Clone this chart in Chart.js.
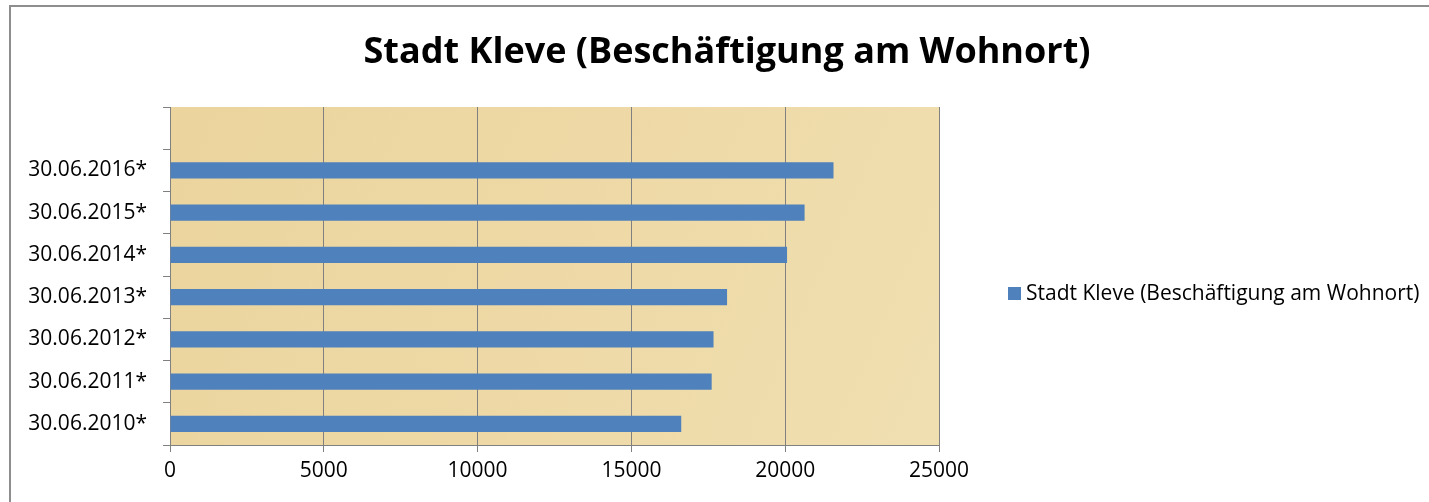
<!DOCTYPE html>
<html lang="de">
<head>
<meta charset="utf-8">
<title>Stadt Kleve (Beschäftigung am Wohnort)</title>
<script src="https://cdn.jsdelivr.net/npm/chart.js@4.4.1/dist/chart.umd.min.js"></script>
<style>
  html, body { margin: 0; padding: 0; background: #fff; overflow: hidden; }
  #wrap { width: 1429px; height: 502px; }
</style>
</head>
<body>
<div id="wrap"><canvas id="chart-kleve" width="1429" height="502"></canvas></div>
<script>
/* Daten – Stichtage und Beschäftigte am Wohnort */
const titel = 'Stadt Kleve (Beschäftigung am Wohnort)';
const reihenName = 'Stadt Kleve (Beschäftigung am Wohnort)';
const stichtage = ['30.06.2010*', '30.06.2011*', '30.06.2012*', '30.06.2013*', '30.06.2014*', '30.06.2015*', '30.06.2016*'];
const beschaeftigte = [16620, 17610, 17670, 18110, 20060, 20630, 21570];
const xTicks = [0, 5000, 10000, 15000, 20000, 25000];

const SCHRIFT = "'Open Sans', 'Noto Sans', sans-serif";
const GRAU = '#808080';
const BALKEN = '#4f81bd';

// Rahmen, Titel, Legende und Papyrus-Fläche – direkt auf das Canvas,
// damit die Positionen wie im Original sitzen (Chart.js zentriert sonst
// den Titel nur über dem gepolsterten Bereich).
const deko = {
  id: 'deko',
  beforeDraw(chart) {
    const { ctx, chartArea: a } = chart;
    ctx.save();
    const g = ctx.createLinearGradient(a.left, a.top, a.right, a.bottom);
    g.addColorStop(0, '#ebd49d');
    g.addColorStop(0.5, '#eed9a6');
    g.addColorStop(1, '#f0dfb1');
    ctx.fillStyle = g;
    ctx.fillRect(a.left, a.top, a.right - a.left, a.bottom - a.top);
    ctx.restore();
  },
  afterDraw(chart) {
    const { ctx } = chart;
    ctx.save();
    // äußerer Rahmen (nur oben und links sichtbar)
    ctx.fillStyle = '#8e8e8e';
    ctx.fillRect(10, 5, chart.width - 10, 2);
    ctx.fillRect(9, 5, 2, chart.height - 5);

    // Titel
    ctx.fillStyle = '#000';
    ctx.font = `bold 36px ${SCHRIFT}`;
    ctx.textAlign = 'center';
    ctx.textBaseline = 'middle';
    ctx.fillText(titel, 727, 53);

    // Legende
    const ds = chart.data.datasets[0];
    ctx.fillStyle = ds.backgroundColor;
    ctx.fillRect(1008, 287, 13, 13);
    ctx.fillStyle = '#000';
    ctx.font = `21px ${SCHRIFT}`;
    ctx.textAlign = 'left';
    ctx.fillText(ds.label, 1026, 294);
    ctx.restore();
  }
};

new Chart(document.getElementById('chart-kleve'), {
  type: 'bar',
  data: {
    labels: [...stichtage, ''],          // oberster Platz bleibt leer
    datasets: [{
      label: reihenName,
      data: [...beschaeftigte, null],
      backgroundColor: BALKEN,
      borderWidth: 0,
      barPercentage: 0.39,
      categoryPercentage: 1
    }]
  },
  options: {
    indexAxis: 'y',
    responsive: false,
    animation: false,
    layout: { padding: { left: 10, right: 490, top: 107, bottom: 20 } },
    plugins: {
      legend: { display: false },
      title: { display: false },
      tooltip: { enabled: false }
    },
    scales: {
      x: {
        min: 0,
        max: 25000,
        afterBuildTicks: s => { s.ticks = xTicks.map(v => ({ value: v })); },
        afterFit: s => { s.height = 37; },
        grid: { color: GRAU, lineWidth: 1, tickLength: 7 },
        border: { color: GRAU, width: 1 },
        ticks: {
          color: '#000',
          font: { family: SCHRIFT, size: 21 },
          padding: 6,
          maxRotation: 0,
          callback: v => String(v)
        }
      },
      y: {
        reverse: true,
        afterFit: s => { s.width = 160; },
        grid: { drawOnChartArea: false, color: GRAU, tickLength: 7, offset: true },
        border: { color: GRAU, width: 1 },
        ticks: { color: '#000', font: { family: SCHRIFT, size: 21 }, padding: 16 }
      }
    }
  },
  plugins: [deko]
});
</script>
</body>
</html>
